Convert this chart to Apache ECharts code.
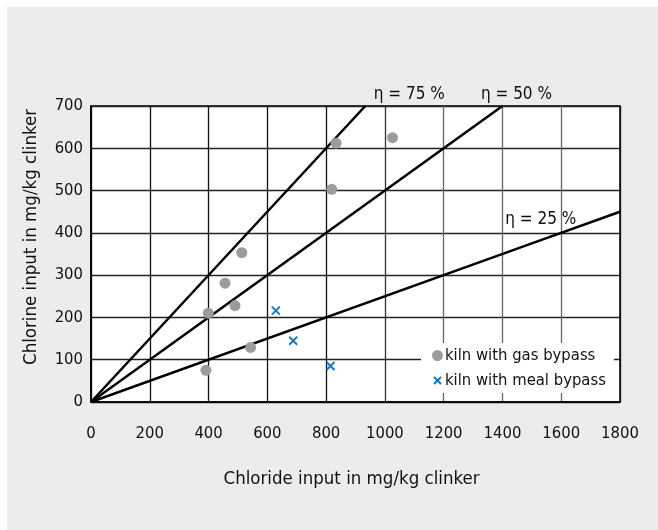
<!DOCTYPE html>
<html>
<head>
<meta charset="utf-8">
<script src="https://cdn.jsdelivr.net/npm/echarts@6/dist/echarts.min.js"></script>
<style>
html,body{margin:0;padding:0;background:#fff;}
#chart{width:658px;height:530px;}
</style>
</head>
<body>
<div id="chart"></div>
<script>
// Data
var xTicks = [0, 200, 400, 600, 800, 1000, 1200, 1400, 1600, 1800];
var yTicks = [0, 100, 200, 300, 400, 500, 600, 700];
var gasBypass = [[391, 75], [399, 210], [456, 281], [490, 228], [513, 353], [543, 129], [819, 503], [834, 612], [1026, 625]];
var mealBypass = [[629, 216], [688, 145], [815, 85]];
var eta75 = [[0, 0], [933.3, 700]];
var eta50 = [[0, 0], [1400, 700]];
var eta25 = [[0, 0], [1500, 375], [1800, 450]];
var etaNames = ['η = 75 %', 'η = 50 %', 'η = 25 %'];
var seriesNames = ['kiln with gas bypass', 'kiln with meal bypass'];

var FONT = "'DejaVu Sans Condensed', 'Liberation Sans Narrow', sans-serif";
var chart = echarts.init(document.getElementById('chart'));

function etaLine(data, name, labelIdx, lbl) {
  return {
    type: 'line', name: name, data: data.map(function (p, i) {
      if (i === labelIdx) return { value: p, label: lbl };
      return p;
    }),
    symbol: 'circle', symbolSize: 0, showSymbol: true, silent: true,
    itemStyle: { color: '#000' },
    lineStyle: { color: '#000', width: 2.5 },
    z: 3,
    label: { show: false }
  };
}
var lblBase = { show: true, color: '#111', fontFamily: FONT, fontSize: 17 };

chart.setOption({
  animation: false,
  backgroundColor: '#fff',
  graphic: [{
    type: 'rect', z: -10, silent: true,
    shape: { x: 7, y: 7, width: 651, height: 523 },
    style: { fill: '#ececec' }
  }],
  grid: { left: 91, top: 106, width: 529, height: 296, show: true, backgroundColor: '#fff', borderColor: '#000', borderWidth: 1.5 },
  xAxis: {
    type: 'value', min: 0, max: 1800, interval: 200,
    name: 'Chloride input in mg/kg clinker', nameLocation: 'middle', nameGap: 68,
    nameTextStyle: { fontFamily: FONT, fontSize: 18.5, color: '#111', padding: [0, 8, 0, 0] },
    axisLine: { show: true, lineStyle: { color: '#000', width: 1.5 } },
    axisTick: { show: false },
    axisLabel: { margin: 23, fontFamily: FONT, fontSize: 16.5, color: '#111',
      formatter: function (v) { return xTicks.indexOf(v) >= 0 ? String(v) : ''; } },
    splitLine: { show: true, lineStyle: { color: ['#111', '#111', '#111', '#111', '#111', '#333', '#666', '#666', '#666', '#111'], width: 1.3 } }
  },
  yAxis: {
    type: 'value', min: 0, max: 700, interval: 100,
    name: 'Chlorine input in mg/kg clinker', nameLocation: 'middle', nameGap: 50,
    nameTextStyle: { fontFamily: FONT, fontSize: 18.5, color: '#111', padding: [0, 0, 0, 34] },
    axisLine: { show: true, lineStyle: { color: '#000', width: 1.5 } },
    axisTick: { show: false },
    axisLabel: { margin: 8, fontFamily: FONT, fontSize: 16.5, color: '#111',
      formatter: function (v) { return yTicks.indexOf(v) >= 0 ? String(v) : ''; } },
    splitLine: { show: true, lineStyle: { color: '#222', width: 1.3 } }
  },
  legend: {
    data: [
      { name: seriesNames[0] },
      { name: seriesNames[1], icon: 'path://M0,0L0,0M2.5,2.5L11.5,11.5M11.5,2.5L2.5,11.5M14,14L14,14' }
    ],
    orient: 'vertical', left: 421, top: 343,
    backgroundColor: '#fff',
    padding: [4, 8, 4, 10],
    itemWidth: 11, itemHeight: 11, itemGap: 8,
    textStyle: { fontFamily: FONT, fontSize: 16.5, color: '#111', padding: [0, 0, 0, -3] }
  },
  series: [
    etaLine(eta75, etaNames[0], 1, Object.assign({}, lblBase, { formatter: etaNames[0], position: 'top', offset: [44, 2] })),
    etaLine(eta50, etaNames[1], 1, Object.assign({}, lblBase, { formatter: etaNames[1], position: 'top', offset: [14, 2] })),
    etaLine(eta25, etaNames[2], 1, Object.assign({}, lblBase, { formatter: etaNames[2], position: 'top', offset: [9, -10] })),
    {
      type: 'scatter', name: seriesNames[0], data: gasBypass,
      symbol: 'circle', symbolSize: 11, z: 4,
      itemStyle: { color: '#989c9f', opacity: 1 }
    },
    {
      type: 'scatter', name: seriesNames[1], data: mealBypass,
      symbol: 'path://M0,0L10,10M10,0L0,10', symbolSize: 8, z: 4,
      itemStyle: { color: 'rgba(0,0,0,0)', borderColor: '#1a76bd', borderWidth: 2, opacity: 1 }
    }
  ]
});
</script>
</body>
</html>
